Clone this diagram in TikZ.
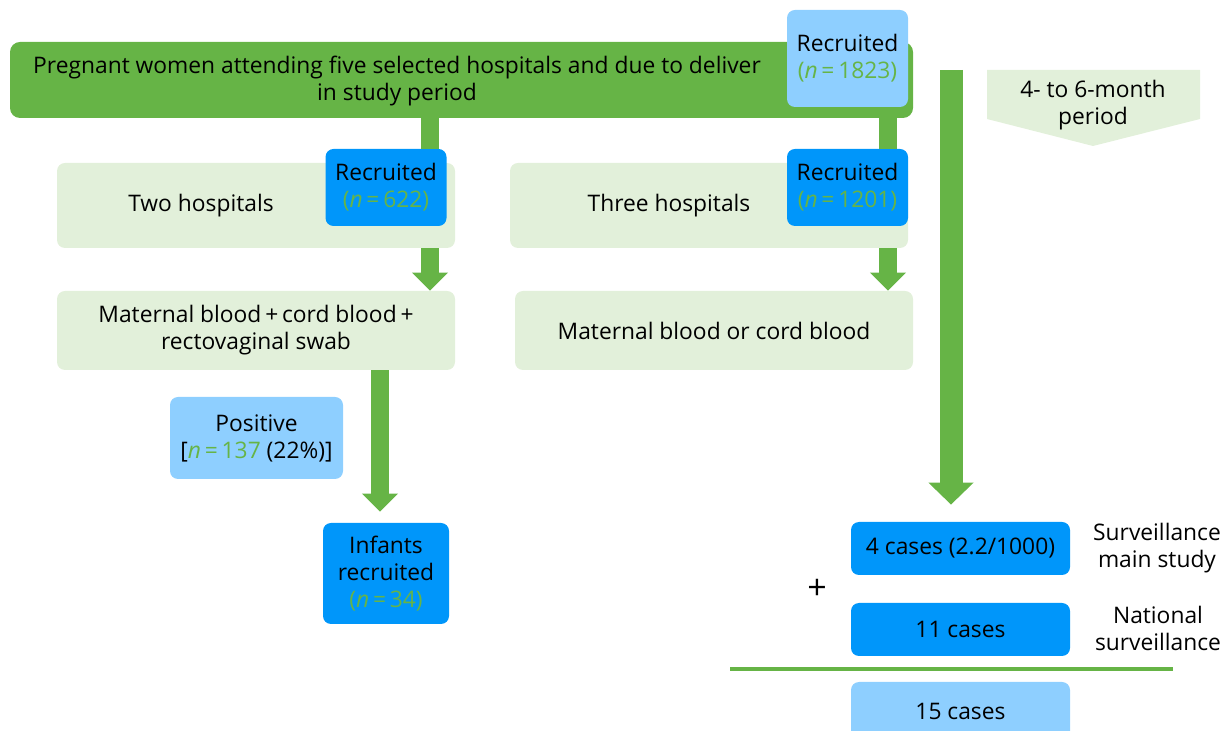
\documentclass[tikz,border=0pt]{standalone}
\usepackage{fontspec}
\setmainfont{Open Sans}
\usetikzlibrary{arrows.meta,calc}

\definecolor{mgreen}{RGB}{102,180,70}
\definecolor{pgreen}{RGB}{226,240,218}
\definecolor{lblue}{RGB}{142,207,255}
\definecolor{dblue}{RGB}{0,150,250}
\newcommand{\nval}[1]{{\color{mgreen}(\textit{n}\,=\,#1)}}

\begin{document}
\begin{tikzpicture}[x=0.5pt,y=-0.5pt,font=\fontsize{11.4}{13.5}\selectfont,
    box/.style = {rounded corners=4pt, inner sep=0pt, align=center},
    palebox/.style = {box, fill=pgreen, minimum width=199pt, minimum height=42.5pt},
    recbox/.style = {box, minimum width=60.5pt, minimum height=38.5pt},
    casebox/.style = {box, minimum width=109.5pt, minimum height=26.5pt},
    fatline/.style = {mgreen, line width=9pt},
    fatarrow/.style = {fatline, -{Triangle[width=17.5pt,length=9pt]}},
    bigarrow/.style = {mgreen, line width=11.5pt, -{Triangle[width=22pt,length=11pt]}}]
    \useasboundingbox (0,0) rectangle (1227,731);
    % top row
    \node[box, fill=mgreen, rounded corners=5pt, minimum width=451.5pt, minimum height=38pt] (main) at (461.5,80) {};
    \node (mainlbl) at (397,81) [align=center] {Pregnant women attending five selected hospitals and due to deliver\\in study period};
    \node[recbox, fill=lblue, minimum height=48.5pt] (r1823) at (847.5,58.5) {Recruited\\\nval{1823}};
    % hospitals
    \node[palebox, label={[xshift=-27.5pt]center:Two hospitals}] (twohosp) at (256,205.5) {};
    \node[palebox, label={[xshift=-20pt]center:Three hospitals}] (threehosp) at (709,205.5) {};
    \node[recbox, fill=dblue] (r622) at (386,187.5) {Recruited\\\nval{622}};
    \node[recbox, fill=dblue] (r1201) at (847.5,187.5) {Recruited\\\nval{1201}};
    % samples
    \node[palebox, minimum height=39.5pt] (matA) at (256,330.5) {Maternal blood\,+\,cord blood\,+\\rectovaginal swab};
    \node[palebox, minimum height=39.5pt] (matB) at (714,330.5) {Maternal blood or cord blood};
    \node[box, fill=lblue, minimum width=86.5pt, minimum height=41pt] (pos) at (256.5,438) {Positive\\{}[{\color{mgreen}\textit{n}\,=\,137} (22\%)]};
    \node[box, fill=dblue, minimum width=63pt, minimum height=50.5pt] (infants) at (386,573.5) {Infants\\recruited\\\nval{34}};
    % surveillance
    \fill[pgreen] (987,70) -- (1200,70) -- (1200,119) -- (1093,146) -- (987,119) -- cycle;
    \node (period) at (1093,105) [align=center] {4- to 6-month\\period};
    \node[casebox, fill=dblue] (cases4) at (960.5,548.5) {4 cases (2.2/1000)};
    \node[casebox, fill=dblue] (cases11) at (960.5,629.5) {11 cases};
    \node[casebox, fill=lblue, minimum height=29pt] (cases15) at (960.5,711) {15 cases};
    \node (plus) at (817,589) {\fontsize{17}{17}\selectfont +};
    \node (survlbl) at (1157,548) [align=center] {Surveillance\\main study};
    \node (natlbl) at (1158,628) [align=center] {National\\surveillance};
    \coordinate (sumL) at (730,669);
    \coordinate (sumR) at (1173,669);
    \draw[mgreen, line width=2pt] (sumL) -- (sumR);
    % connectors
    \coordinate (colA) at (430,0);
    \coordinate (colB) at (888,0);
    \coordinate (colC) at (380,0);
    \coordinate (ptop) at (951,70);
    \draw[fatline] (main.south -| colA) -- (r622.north -| colA);
    \draw[fatarrow] (twohosp.south -| colA) -- (matA.north -| colA);
    \draw[fatline] (main.south -| colB) -- (r1201.north -| colB);
    \draw[fatarrow] (threehosp.south -| colB) -- (matB.north -| colB);
    \draw[fatarrow, shorten >=5.5pt] (matA.south -| colC) -- (infants.north -| colC);
    \draw[bigarrow, shorten >=8.5pt] (ptop) -- (cases4.north -| ptop);
\end{tikzpicture}
\end{document}
